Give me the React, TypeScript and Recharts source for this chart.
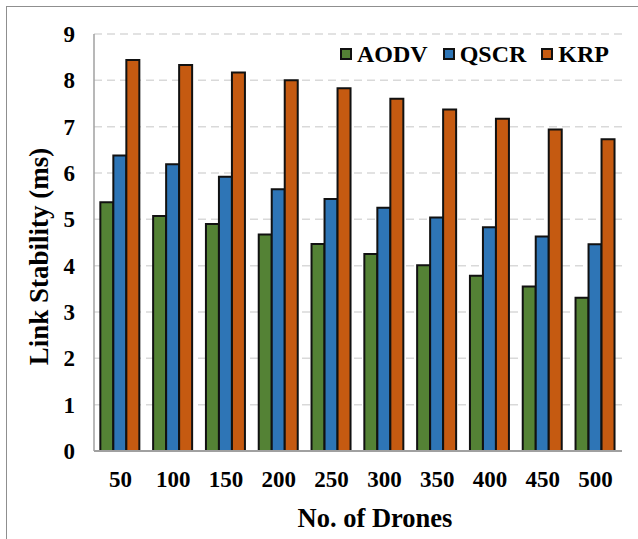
import React from 'react';
import {
  BarChart,
  Bar,
  XAxis,
  YAxis,
  CartesianGrid,
  Legend,
  Label,
} from 'recharts';

// Number of drones in the network
const droneCounts = ['50', '100', '150', '200', '250', '300', '350', '400', '450', '500'];

// Link stability (ms) per routing protocol
const aodvValues = [5.37, 5.07, 4.9, 4.67, 4.47, 4.25, 4.01, 3.78, 3.55, 3.31];
const qscrValues = [6.38, 6.19, 5.92, 5.65, 5.44, 5.25, 5.04, 4.83, 4.63, 4.46];
const krpValues = [8.44, 8.33, 8.17, 8.0, 7.83, 7.6, 7.37, 7.17, 6.94, 6.73];

const yTicks = [0, 1, 2, 3, 4, 5, 6, 7, 8, 9];

const series = [
  { key: 'AODV', color: '#548235' },
  { key: 'QSCR', color: '#2E75B6' },
  { key: 'KRP', color: '#C55A11' },
];

const data = droneCounts.map((d, i) => ({
  drones: d,
  AODV: aodvValues[i],
  QSCR: qscrValues[i],
  KRP: krpValues[i],
}));

const FONT = "'Liberation Serif', 'Times New Roman', serif";
const tickStyle = { fontFamily: FONT, fontWeight: 700, fontSize: 23, fill: '#000' };

function LegendContent() {
  return (
    <div style={{ display: 'flex', alignItems: 'center', fontFamily: FONT, fontWeight: 700, fontSize: 24, color: '#000' }}>
      {series.map((s) => (
        <div key={s.key} style={{ display: 'flex', alignItems: 'center', marginRight: 15 }}>
          <span
            style={{
              display: 'inline-block',
              width: 8,
              height: 8,
              background: s.color,
              border: '2px solid #111',
              marginRight: 5,
            }}
          />
          <span style={{ lineHeight: '26px' }}>{s.key}</span>
        </div>
      ))}
    </div>
  );
}

export default function App() {
  return (
    <div style={{ position: 'absolute', left: 0, top: 0, width: 638, height: 539, background: '#fff', overflow: 'hidden' }}>
      <div
        style={{
          position: 'absolute',
          left: 6,
          top: 6,
          width: 640,
          height: 540,
          borderLeft: '1.5px solid #8f8f8f',
          borderTop: '1.5px solid #8f8f8f',
        }}
      />
      <div style={{ position: 'absolute', left: 0, top: 0 }}>
        <BarChart
          width={638}
          height={539}
          data={data}
          margin={{ top: 34, right: 16, bottom: 0, left: 0 }}
          barCategoryGap="12%"
          barGap={0}
        >
          <CartesianGrid vertical={false} stroke="#d9d9d9" strokeWidth={1.5} strokeDasharray="8 5" />
          <XAxis
            dataKey="drones"
            height={88}
            tickLine={false}
            tickSize={0}
            tickMargin={20}
            axisLine={{ stroke: '#a0a0a0', strokeWidth: 2 }}
            tick={tickStyle}
            interval={0}
          >
            <Label
              value="No. of Drones"
              position="center"
              dx={17}
              dy={23}
              style={{ fontFamily: FONT, fontWeight: 700, fontSize: 26.5, fill: '#000' }}
            />
          </XAxis>
          <XAxis xAxisId="top" dataKey="drones" orientation="top" height={0} tick={false} tickLine={false} axisLine={{ stroke: '#a0a0a0', strokeWidth: 1.5 }} />
          <YAxis
            width={94}
            domain={[0, 9]}
            ticks={yTicks}
            interval={0}
            tickLine={false}
            tickSize={0}
            tickMargin={19}
            axisLine={{ stroke: '#a0a0a0', strokeWidth: 1.5 }}
            tick={tickStyle}
          >
            <Label
              value="Link Stability (ms)"
              position="center"
              angle={-90}
              dx={-9}
              dy={14}
              style={{ fontFamily: FONT, fontWeight: 700, fontSize: 27, fill: '#000', textAnchor: 'middle' }}
            />
          </YAxis>
          <YAxis yAxisId="right" orientation="right" width={0} domain={[0, 9]} tick={false} tickLine={false} axisLine={{ stroke: '#a0a0a0', strokeWidth: 1.5 }} />
          <Legend
            layout="vertical"
            align="center"
            verticalAlign="middle"
            content={<LegendContent />}
            wrapperStyle={{ left: 340, top: 41, width: 290, height: 26 }}
          />
          {series.map((s) => (
            <Bar
              key={s.key}
              dataKey={s.key}
              name={s.key}
              fill={s.color}
              stroke="#111"
              strokeWidth={2}
              isAnimationActive={false}
            />
          ))}
        </BarChart>
      </div>
    </div>
  );
}
